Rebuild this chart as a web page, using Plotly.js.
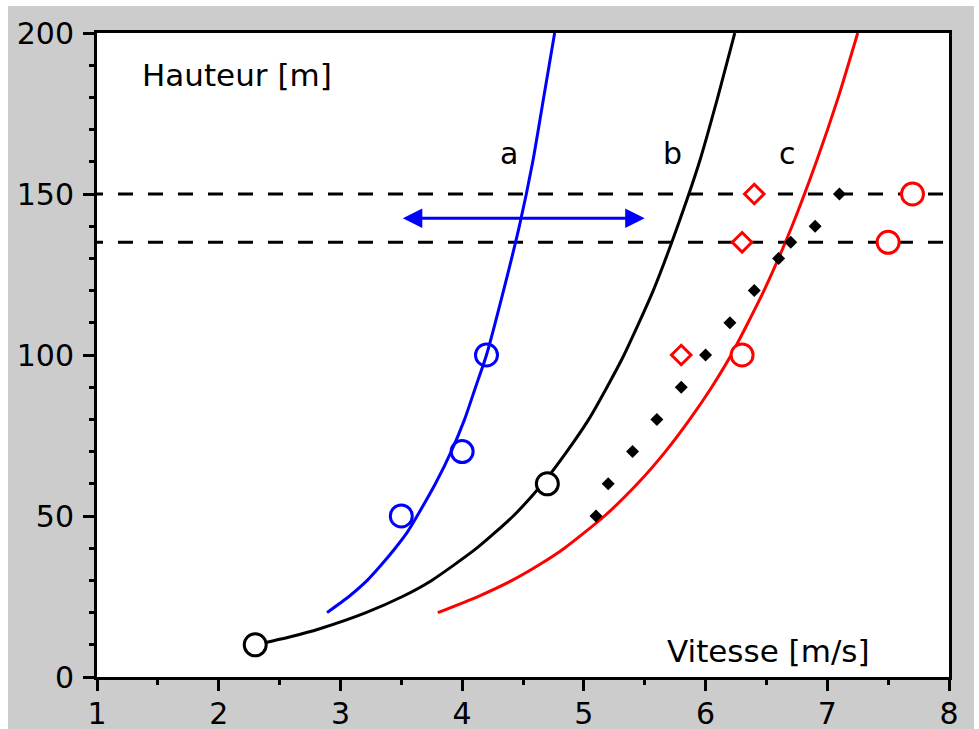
<!DOCTYPE html>
<html>
<head>
<meta charset="utf-8">
<script src="https://cdn.plot.ly/plotly-3.0.1.min.js"></script>
<style>
  html, body { margin: 0; padding: 0; background: #ffffff; }
  #chart { position: absolute; left: 8px; top: 6px; width: 966px; height: 723px; }
</style>
</head>
<body>
<div id="chart"></div>
<script>
// Curve a (blue)
const heightsA = [20, 25, 30, 35, 40, 45, 50, 60, 70, 80, 90, 100, 120, 140, 160, 180, 200];
const speedsA  = [2.89, 3.07, 3.22, 3.34, 3.45, 3.55, 3.63, 3.78, 3.91, 4.02, 4.11, 4.20, 4.34, 4.47, 4.58, 4.67, 4.76];
// Curve b (black)
const heightsB = [10, 12.5, 15, 20, 25, 30, 40, 50, 60, 70, 80, 90, 100, 120, 140, 160, 180, 200];
const speedsB  = [2.30, 2.59, 2.83, 3.21, 3.51, 3.75, 4.12, 4.42, 4.66, 4.86, 5.04, 5.19, 5.33, 5.57, 5.77, 5.95, 6.10, 6.24];
// Curve c (red)
const heightsC = [20, 25, 30, 35, 40, 50, 60, 70, 80, 90, 100, 120, 140, 160, 180, 200];
const speedsC  = [3.80, 4.13, 4.41, 4.64, 4.84, 5.17, 5.44, 5.67, 5.87, 6.05, 6.21, 6.48, 6.71, 6.91, 7.09, 7.25];

// Measured points
const blueCircX = [3.5, 4.0, 4.2];
const blueCircY = [50, 70, 100];
const blackCircX = [2.3, 4.7];
const blackCircY = [10, 60];
const redCircX = [6.3, 7.5, 7.7];
const redCircY = [100, 135, 150];
const redDiamX = [5.8, 6.3, 6.4];
const redDiamY = [100, 135, 150];
const blackDiamX = [5.1, 5.2, 5.4, 5.6, 5.8, 6.0, 6.2, 6.4, 6.6, 6.7, 6.9, 7.1];
const blackDiamY = [50, 60, 70, 80, 90, 100, 110, 120, 130, 135, 140, 150];

// Reference heights (dashed lines)
const refHeights = [150, 135];
const dashSpan = [0.926, 8];
const xRange = [1, 8];
const yRange = [0, 200];

// Arrow
const arrowFrom = 3.5, arrowTo = 5.5, arrowY = 142.5;

// Labels
const curveLabels = ['a', 'b', 'c'];
const curveLabelX = [4.385, 5.73, 6.67];
const curveLabelY = 162.5;

const traces = [];
refHeights.forEach(h => traces.push({
  x: dashSpan, y: [h, h], mode: 'lines', type: 'scatter',
  line: {color: '#000', width: 3, dash: '15px,15px'}, hoverinfo: 'skip'
}));
traces.push({x: speedsA, y: heightsA, mode: 'lines', line: {color: '#0000ff', width: 3, shape: 'spline', smoothing: 0.6}});
traces.push({x: speedsB, y: heightsB, mode: 'lines', line: {color: '#000000', width: 3, shape: 'spline', smoothing: 0.6}});
traces.push({x: speedsC, y: heightsC, mode: 'lines', line: {color: '#ff0000', width: 3, shape: 'spline', smoothing: 0.6}});
traces.push({x: blueCircX, y: blueCircY, mode: 'markers', marker: {symbol: 'circle-open', size: 22, color: '#0000ff', line: {width: 3, color: '#0000ff'}}});
traces.push({x: blackCircX, y: blackCircY, mode: 'markers', marker: {symbol: 'circle', size: 22, color: '#ffffff', line: {width: 3, color: '#000000'}}, cliponaxis: false});
traces.push({x: redCircX, y: redCircY, mode: 'markers', marker: {symbol: 'circle', size: 22, color: '#ffffff', line: {width: 3, color: '#ff0000'}}});
traces.push({x: redDiamX, y: redDiamY, mode: 'markers', marker: {symbol: 'diamond', size: 15, color: '#ffffff', line: {width: 3, color: '#ff0000'}}});
traces.push({x: blackDiamX, y: blackDiamY, mode: 'markers', marker: {symbol: 'diamond', size: 10, color: '#000000', line: {width: 0}}});

const font = 'DejaVu Sans, sans-serif';
const annotations = [
  {x: arrowTo, y: arrowY, ax: arrowFrom, ay: arrowY, xref: 'x', yref: 'y', axref: 'x', ayref: 'y',
   showarrow: true, arrowside: 'end+start', arrowhead: 2, startarrowhead: 2, arrowsize: 1.3, startarrowsize: 1.3,
   arrowwidth: 3, arrowcolor: '#0000ff', text: ''},
  {x: 1.353, y: 187, xref: 'x', yref: 'y', text: 'Hauteur [m]', showarrow: false, xanchor: 'left', yanchor: 'middle',
   font: {family: font, size: 31, color: '#000'}},
  {x: 7.37, y: 8, xref: 'x', yref: 'y', text: 'Vitesse [m/s]', showarrow: false, xanchor: 'right', yanchor: 'middle',
   font: {family: font, size: 31, color: '#000'}}
];
curveLabels.forEach((t, i) => annotations.push({
  x: curveLabelX[i], y: curveLabelY, xref: 'x', yref: 'y', text: t, showarrow: false,
  xanchor: 'center', yanchor: 'middle', font: {family: font, size: 30, color: '#000'}
}));

const axisCommon = {
  showgrid: false, zeroline: false, showline: true, linewidth: 3, linecolor: '#000', mirror: true,
  ticks: 'outside', ticklen: 11, tickwidth: 3, tickcolor: '#000',
  tickfont: {family: font, size: 30, color: '#000'}
};

const layout = {
  width: 966, height: 723,
  margin: {l: 89, r: 25, t: 27, b: 52, pad: 0},
  paper_bgcolor: '#cccccc', plot_bgcolor: '#ffffff',
  showlegend: false,
  font: {family: font},
  xaxis: Object.assign({}, axisCommon, {range: xRange, tick0: 1, dtick: 1, ticklabelstandoff: -3,
    minor: {dtick: 0.5, ticks: 'outside', ticklen: 5, tickwidth: 3, tickcolor: '#000', showgrid: false}}),
  yaxis: Object.assign({}, axisCommon, {range: yRange, tick0: 0, dtick: 50, ticklabelstandoff: 3,
    minor: {dtick: 10, ticks: 'outside', ticklen: 5, tickwidth: 3, tickcolor: '#000', showgrid: false}}),
  annotations: annotations
};

Plotly.newPlot('chart', traces, layout, {displayModeBar: false, staticPlot: true});
</script>
</body>
</html>
